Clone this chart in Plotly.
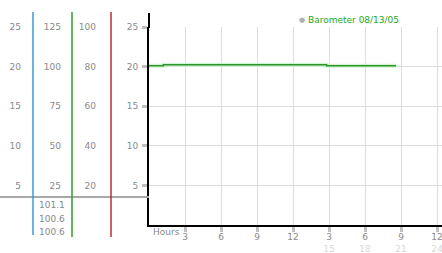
import plotly.graph_objects as go

# ---- data ----
hours = [0, 1.2, 14.8, 20.6]
baro = [100.6, 101.1, 100.6, 100.6]
main_ticks = [5, 10, 15, 20, 25]
col1_ticks = [5, 10, 15, 20, 25]
col2_ticks = [25, 50, 75, 100, 125]
col3_ticks = [20, 40, 60, 80, 100]
x_tickvals = [3, 6, 9, 12, 15, 18, 21, 24]
x_top_labels = ["3", "6", "9", "12", "3", "6", "9", "12"]
x_bottom_labels = ["", "", "", "", "15", "18", "21", "24"]
summary_values = ["101.1", "100.6", "100.6"]
series_name = "Barometer 08/13/05"

W, H = 442, 253
def px(x): return x / W
def py(y): return 1 - y / H

FONT = "DejaVu Sans"
GREY = "#8a8a8a"

fig = go.Figure()

# invisible traces so the base subplot and side axes exist
fig.add_trace(go.Scatter(x=[None], y=[None], xaxis="x", yaxis="y", showlegend=False, hoverinfo="skip"))
fig.add_trace(go.Scatter(x=[None], y=[None], yaxis="y2", showlegend=False, hoverinfo="skip"))
fig.add_trace(go.Scatter(x=[None], y=[None], yaxis="y4", showlegend=False, hoverinfo="skip"))

# shadow band + line
fig.add_trace(go.Scatter(x=hours, y=baro, yaxis="y3", mode="lines",
                         line=dict(color="#d2f2d2", width=4, shape="hv"),
                         hoverinfo="skip", showlegend=False))
fig.add_trace(go.Scatter(x=hours, y=baro, yaxis="y3", mode="lines",
                         line=dict(color="#2a962a", width=1.5, shape="hv"),
                         name=series_name, showlegend=False))

ticktext = [t if b == "" else f"{t}<br><span style='color:#d8d8d8'>{b}</span>"
            for t, b in zip(x_top_labels, x_bottom_labels)]

ydom = [28 / H, 226 / H]

def side_axis(rng, ticks, pos):
    return dict(domain=ydom, range=rng, tickvals=ticks, overlaying="y",
                anchor="free", position=pos / W, side="left", ticks="",
                showline=False, showgrid=False, zeroline=False, automargin=False,
                tickfont=dict(size=9, color=GREY))

fig.update_layout(
    width=W, height=H, margin=dict(l=0, r=0, t=0, b=0),
    template="none",
    paper_bgcolor="white", plot_bgcolor="white",
    font=dict(family=FONT, size=9, color=GREY),
    showlegend=False,
    xaxis=dict(domain=[149 / W, 1], range=[0, (W - 149) / 12], tickvals=x_tickvals,
               ticktext=ticktext, ticks="outside", ticklen=5, tickwidth=3,
               tickcolor="#c0c0c0", showline=True, linecolor="black", linewidth=2,
               showgrid=True, gridcolor="#dedede", gridwidth=1, zeroline=False,
               automargin=False, ticklabelstandoff=-3, ticklabeloverflow="allow",
               tickfont=dict(size=9, color=GREY)),
    yaxis=dict(domain=ydom, range=[0, 25], tickvals=main_ticks, ticks="outside",
               ticklen=5, tickwidth=3, tickcolor="#c0c0c0", showline=True,
               linecolor="black", linewidth=2, showgrid=True, gridcolor="#dedede",
               zeroline=False, automargin=False, ticklabelstandoff=2,
               tickfont=dict(size=9, color=GREY)),
    yaxis2=side_axis([0, 25], col1_ticks, 21),
    yaxis3=side_axis([0, 125], col2_ticks, 61),
    yaxis4=side_axis([0, 100], col3_ticks, 96),
)

shapes = [
    dict(type="line", xref="paper", yref="paper", x0=px(0), x1=px(149), y0=py(197), y1=py(197),
         line=dict(color="#a8a8a8", width=2)),
    dict(type="line", xref="paper", yref="paper", x0=px(33), x1=px(33), y0=py(12), y1=py(235),
         line=dict(color="#3a9bd0", width=1.5)),
    dict(type="line", xref="paper", yref="paper", x0=px(72), x1=px(72), y0=py(12), y1=py(237),
         line=dict(color="#2e9e2e", width=1.5)),
    dict(type="line", xref="paper", yref="paper", x0=px(111), x1=px(111), y0=py(12), y1=py(237),
         line=dict(color="#b83030", width=1.5)),
    dict(type="line", xref="paper", yref="paper", x0=px(149), x1=px(149), y0=py(13), y1=py(28),
         line=dict(color="black", width=2)),
]
fig.update_layout(shapes=shapes)

annotations = [
    dict(text="Hours", x=px(166), y=py(232), xref="paper", yref="paper", showarrow=False,
         xanchor="center", yanchor="middle", font=dict(size=9, color=GREY)),
    dict(text="●", x=px(302), y=py(20), xref="paper", yref="paper", showarrow=False,
         xanchor="center", yanchor="middle", font=dict(size=7, color="#b0b0b0")),
    dict(text=series_name, x=px(306), y=py(20), xref="paper", yref="paper",
         xanchor="left", yanchor="middle", showarrow=False,
         font=dict(size=9, color="#22aa22")),
]
for i, v in enumerate(summary_values):
    annotations.append(dict(text=v, x=px(52), y=py(205 + i * 13.5), xref="paper", yref="paper",
                            xanchor="center", yanchor="middle",
                            showarrow=False, font=dict(size=9, color="#888")))
fig.update_layout(annotations=annotations)

fig.write_html("out.html")
